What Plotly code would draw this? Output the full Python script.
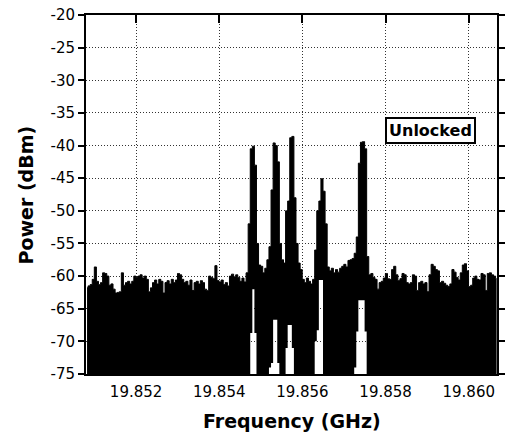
import numpy as np
import plotly.graph_objects as go

# Spectrum analyser sweep: start frequency and bin spacing (GHz)
f_start = 19.85082
f_step = 0.00005

# Upper envelope of the trace (dBm), one value per sweep bin
upper_db = [
    -61.8, -61.5, -61.3, -60.5, -58.6, -60.8, -61.3, -61.0, -59.5, -59.6,
    -60.0, -61.4, -61.2, -62.0, -62.6, -62.5, -62.4, -59.5, -61.4, -61.0,
    -60.8, -61.2, -60.8, -60.0, -60.2, -60.0, -59.8, -60.3, -60.0, -60.5,
    -62.4, -61.8, -61.0, -60.6, -61.2, -60.5, -60.8, -62.6, -61.0, -60.7,
    -61.2, -60.5, -61.0, -60.6, -59.6, -59.8, -60.5, -61.0, -60.8, -61.4,
    -60.6, -62.2, -61.0, -60.8, -61.2, -60.7, -61.0, -62.0, -62.2, -60.0,
    -60.2, -60.4, -58.4, -60.7, -60.9, -60.6, -61.3, -61.0, -61.5, -60.0,
    -59.7, -60.1, -59.8, -60.2, -60.8, -60.3, -60.9, -59.5, -52.0, -40.5,
    -40.1, -43.0, -55.0, -58.3, -58.5, -59.5, -58.8, -57.5, -55.5, -46.8,
    -39.6, -40.0, -42.5, -55.0, -57.5, -58.0, -50.0, -48.5, -38.8, -38.6,
    -48.0, -55.0, -58.0, -59.0, -60.5, -61.0, -60.3, -60.8, -61.2, -60.5,
    -56.0, -50.0, -48.5, -45.1, -47.0, -52.0, -58.6, -59.2, -58.8, -59.5,
    -59.0, -59.4, -58.8, -58.5, -58.2, -58.6, -57.6, -57.5, -57.3, -56.5,
    -54.0, -42.7, -39.5, -39.4, -40.5, -57.0, -59.8, -59.6, -60.2, -60.5,
    -62.0, -61.0, -60.8, -60.3, -59.6, -60.4, -60.5, -59.0, -58.5, -59.8,
    -60.7, -60.4, -59.6, -59.8, -61.0, -61.2, -61.0, -59.8, -60.0, -62.2,
    -61.0, -60.8, -61.2, -61.0, -62.4, -59.8, -58.2, -58.5, -59.0, -59.2,
    -61.0, -60.8, -61.1, -61.4, -61.6, -61.2, -59.0, -59.4, -60.2, -60.6,
    -59.5, -58.3, -58.1, -59.2, -61.6, -61.4, -60.3, -60.0, -60.5, -60.6,
    -59.6, -59.8, -62.2, -59.6, -59.5, -59.8, -60.0, -60.4,
]

# Lower envelope near the carriers (bin index -> dBm); elsewhere the
# trace minimum is below the display floor
gap_bins = [79, 80, 81, 88, 89, 90, 91, 92, 96, 97, 98, 99,
            110, 111, 112, 113, 129, 130, 131, 132, 133, 134]
gap_db = [-68.7, -62.0, -68.7, -74.0, -73.3, -66.7, -66.7, -73.3,
          -71.0, -67.5, -67.5, -71.0,
          -70.0, -68.3, -60.6, -60.6, -74.0, -68.5, -63.7, -63.7, -63.7, -68.5]

y_min, y_max = -75, -20
x_ticks = [19.852, 19.854, 19.856, 19.858, 19.860]
x_tick_text = ["19.852", "19.854", "19.856", "19.858", "19.860"]
y_ticks = [-75, -70, -65, -60, -55, -50, -45, -40, -35, -30, -25, -20]
y_tick_text = [str(v) for v in y_ticks]

n = len(upper_db)
freq = f_start + f_step * np.arange(n)
lower = np.full(n, float(y_min))
for b, v in zip(gap_bins, gap_db):
    lower[b] = v

fig = go.Figure()
fig.add_trace(go.Scatter(x=freq, y=lower, mode="lines", line=dict(width=0, shape="hvh"),
                         showlegend=False, hoverinfo="skip"))
fig.add_trace(go.Scatter(x=freq, y=upper_db, mode="lines",
                         line=dict(width=1, color="black", shape="hvh"),
                         fill="tonexty", fillcolor="black", showlegend=False))

fig.add_annotation(x=19.85799, y=-35.6, xref="x", yref="y", xanchor="left", yanchor="top",
                   text="<b>Unlocked</b>",
                   showarrow=False, bgcolor="white", bordercolor="black",
                   borderwidth=2, borderpad=2,
                   font=dict(family="DejaVu Sans", size=16, color="black"))

# axis titles
fig.add_annotation(x=0.5, y=-0.131, xref="paper", yref="paper", yanchor="middle",
                   text="<b>Frequency (GHz)</b>", showarrow=False,
                   font=dict(family="DejaVu Sans", size=19, color="black"))
fig.add_annotation(x=-0.146, y=0.5, xref="paper", yref="paper", xanchor="center",
                   text="<b>Power (dBm)</b>", textangle=-90, showarrow=False,
                   font=dict(family="DejaVu Sans", size=19, color="black"))

x_lo = f_start - f_step / 2
x_hi = 19.852 + (505 - 137) / 42400

fig.update_xaxes(range=[x_lo, x_hi], tickvals=x_ticks, ticktext=x_tick_text,
                 showline=True, linewidth=2, linecolor="black", mirror="ticks",
                 ticks="inside", ticklen=8, tickwidth=1.5, tickcolor="black",
                 showgrid=True, gridcolor="#333", griddash="1px,2px", gridwidth=1,
                 zeroline=False, ticklabelstandoff=3,
                 tickfont=dict(family="DejaVu Sans", size=15, color="black"))
fig.update_yaxes(range=[y_min, y_max], tickvals=y_ticks, ticktext=y_tick_text,
                 showline=True, linewidth=2, linecolor="black", mirror="ticks",
                 ticks="outside", ticklen=6, tickwidth=2, tickcolor="black",
                 showgrid=True, gridcolor="#333", griddash="1px,2px", gridwidth=1,
                 zeroline=False,
                 tickfont=dict(family="DejaVu Sans", size=15, color="black"))

fig.update_layout(width=509, height=437, margin=dict(l=86, r=4, t=15, b=63),
                  plot_bgcolor="white", paper_bgcolor="white",
                  font=dict(family="DejaVu Sans", color="black"))

fig.write_html("out.html")
